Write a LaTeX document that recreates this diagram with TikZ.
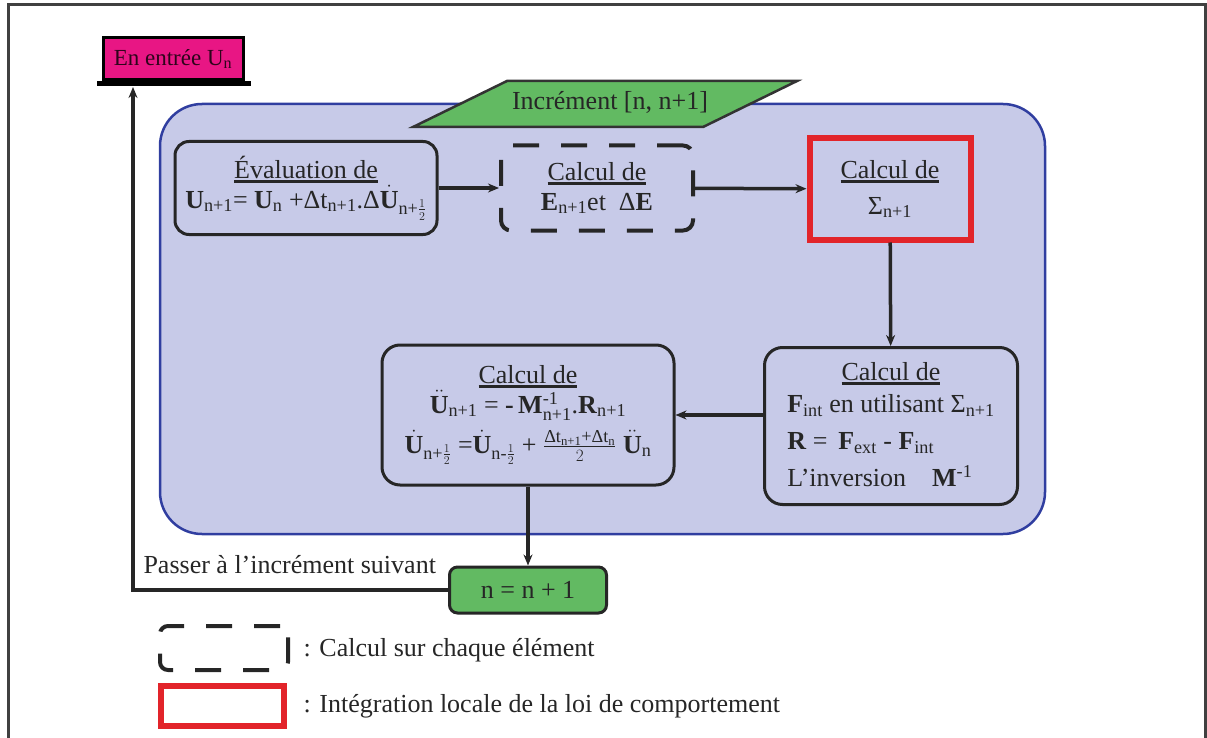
\documentclass[tikz,border=0pt]{standalone}
\usepackage{amsmath}
\usepackage{fontspec}
\setmainfont{Liberation Serif}
\usetikzlibrary{arrows.meta}
\definecolor{fondbleu}{RGB}{199,202,232}
\definecolor{bordbleu}{RGB}{48,62,160}
\definecolor{rose}{RGB}{232,22,132}
\definecolor{vert}{RGB}{98,186,98}
\definecolor{rouge}{RGB}{226,36,42}
\newcommand\titre[1]{\vtop{\hbox{#1}\kern1.5pt\hrule height 3pt}}
\newcommand\sub[1]{\textsubscript{#1}}
\newcommand\demi{$\frac{1}{2}$}

\begin{document}
\begin{tikzpicture}[x=1pt,y=-1pt,>=Stealth,font=\fontsize{26}{32}\selectfont,text=black!85,
  boite/.style={rectangle,rounded corners=14pt,draw=black!85,line width=3pt,inner sep=2pt,align=center},
  fleche/.style={draw=black!85,line width=3.5pt,arrows={-Stealth[length=11pt,width=9pt]}}]
\useasboundingbox (0,0) rectangle (1207,738);
% cadre
\draw[black!75,line width=3pt] (8,740) -- (8,5) -- (1205,5) -- (1205,740);
% bloc de l'increment
\node[rectangle,rounded corners=42pt,fill=fondbleu,draw=bordbleu,line width=2.5pt,minimum width=885,minimum height=430] (bloc) at (602.5,319) {};
\draw[fill=vert,draw=black!80,line width=2.5pt] (413,127) -- (507,81) -- (797,81) -- (703,127) -- cycle;
\node (incr) at (610,102) {Incrément [n, n+1]};
% entree
\node[rectangle,fill=rose,draw=black,line width=3pt,minimum width=140,minimum height=42,inner sep=0pt,text=black!80!rose,font=\fontsize{23}{26}\selectfont] (entree) at (173,59) {En entrée U\sub{n}};
\draw[black,line width=5pt] (97,84) -- (251,84);
\coordinate (socle) at (173,87);
% etapes
\node[boite,minimum width=262,minimum height=93] (eval) at (306,188) {\titre{Évaluation de}\\[-2pt]\textbf{U}\sub{n+1}= \textbf{U}\sub{n} +Δt\sub{n+1}.Δ$\dot{\textbf{U}}$\sub{n+\demi}};
\node[boite,rounded corners=10pt,dash pattern=on 26pt off 22pt,line width=4pt,minimum width=192,minimum height=85] (calcE) at (597,188) {\titre{Calcul de}\\[-2pt]\textbf{E}\sub{n+1}et\ \ Δ\textbf{E}};
\node[boite,rounded corners=0pt,draw=rouge,line width=6pt,minimum width=161,minimum height=101] (sigma) at (890,189) {\titre{Calcul de}\\[4pt]Σ\sub{n+1}};
\node[boite,rounded corners=18pt,minimum width=253,minimum height=157] (fint) at (891,426) {\renewcommand\arraystretch{1.15}\begin{tabular}{@{}l@{}}\multicolumn{1}{@{}c@{}}{\titre{Calcul de}}\\[-4pt]\textbf{F}\sub{int} en utilisant Σ\sub{n+1}\\\textbf{R} = \,\textbf{F}\sub{ext} - \textbf{F}\sub{int}\\L'inversion\quad\textbf{M}\textsuperscript{-1}\end{tabular}};
\node[boite,rounded corners=18pt,minimum width=292,minimum height=140] (ubox) at (528,415) {\titre{Calcul de}\\[-2pt]$\ddot{\textbf{U}}$\sub{n+1} = \textbf{-\,M}$^{\text{-1}}_{\text{n+1}}$.\textbf{R}\sub{n+1}\\[8pt]$\dot{\textbf{U}}$\sub{n+\demi} =$\dot{\textbf{U}}$\sub{n-\demi} + $\frac{\text{Δt\sub{n+1}+Δt\sub{n}}}{2}$ $\ddot{\textbf{U}}$\sub{n}};
\node[boite,rounded corners=8pt,fill=vert,minimum width=157,minimum height=46] (suiv) at (528,590) {n = n + 1};
\node[anchor=west] (passer) at (140,565) {Passer à l'incrément suivant};
\coordinate (coin) at (133,590);
% liaisons
\draw[fleche] (eval) -- (calcE);
\draw[fleche] (calcE) -- (sigma);
\draw[fleche] (sigma) -- (fint);
\draw[fleche] (fint.west |- ubox.east) -- (ubox.east);
\draw[fleche] (ubox) -- (suiv);
\draw[fleche] (suiv.west) -- (coin) -- (coin |- socle);
% legende
\node[rectangle,rounded corners=8pt,draw=black!85,dash pattern=on 26pt off 22pt,line width=4pt,minimum width=128,minimum height=44] (legE) at (224,648) {};
\node[anchor=west] (legEtxt) at (300,650) {: Calcul sur chaque élément};
\node[rectangle,draw=rouge,line width=6pt,minimum width=123,minimum height=40] (legS) at (222,706) {};
\node[anchor=west] (legStxt) at (300,706) {: Intégration locale de la loi de comportement};
\end{tikzpicture}
\end{document}
